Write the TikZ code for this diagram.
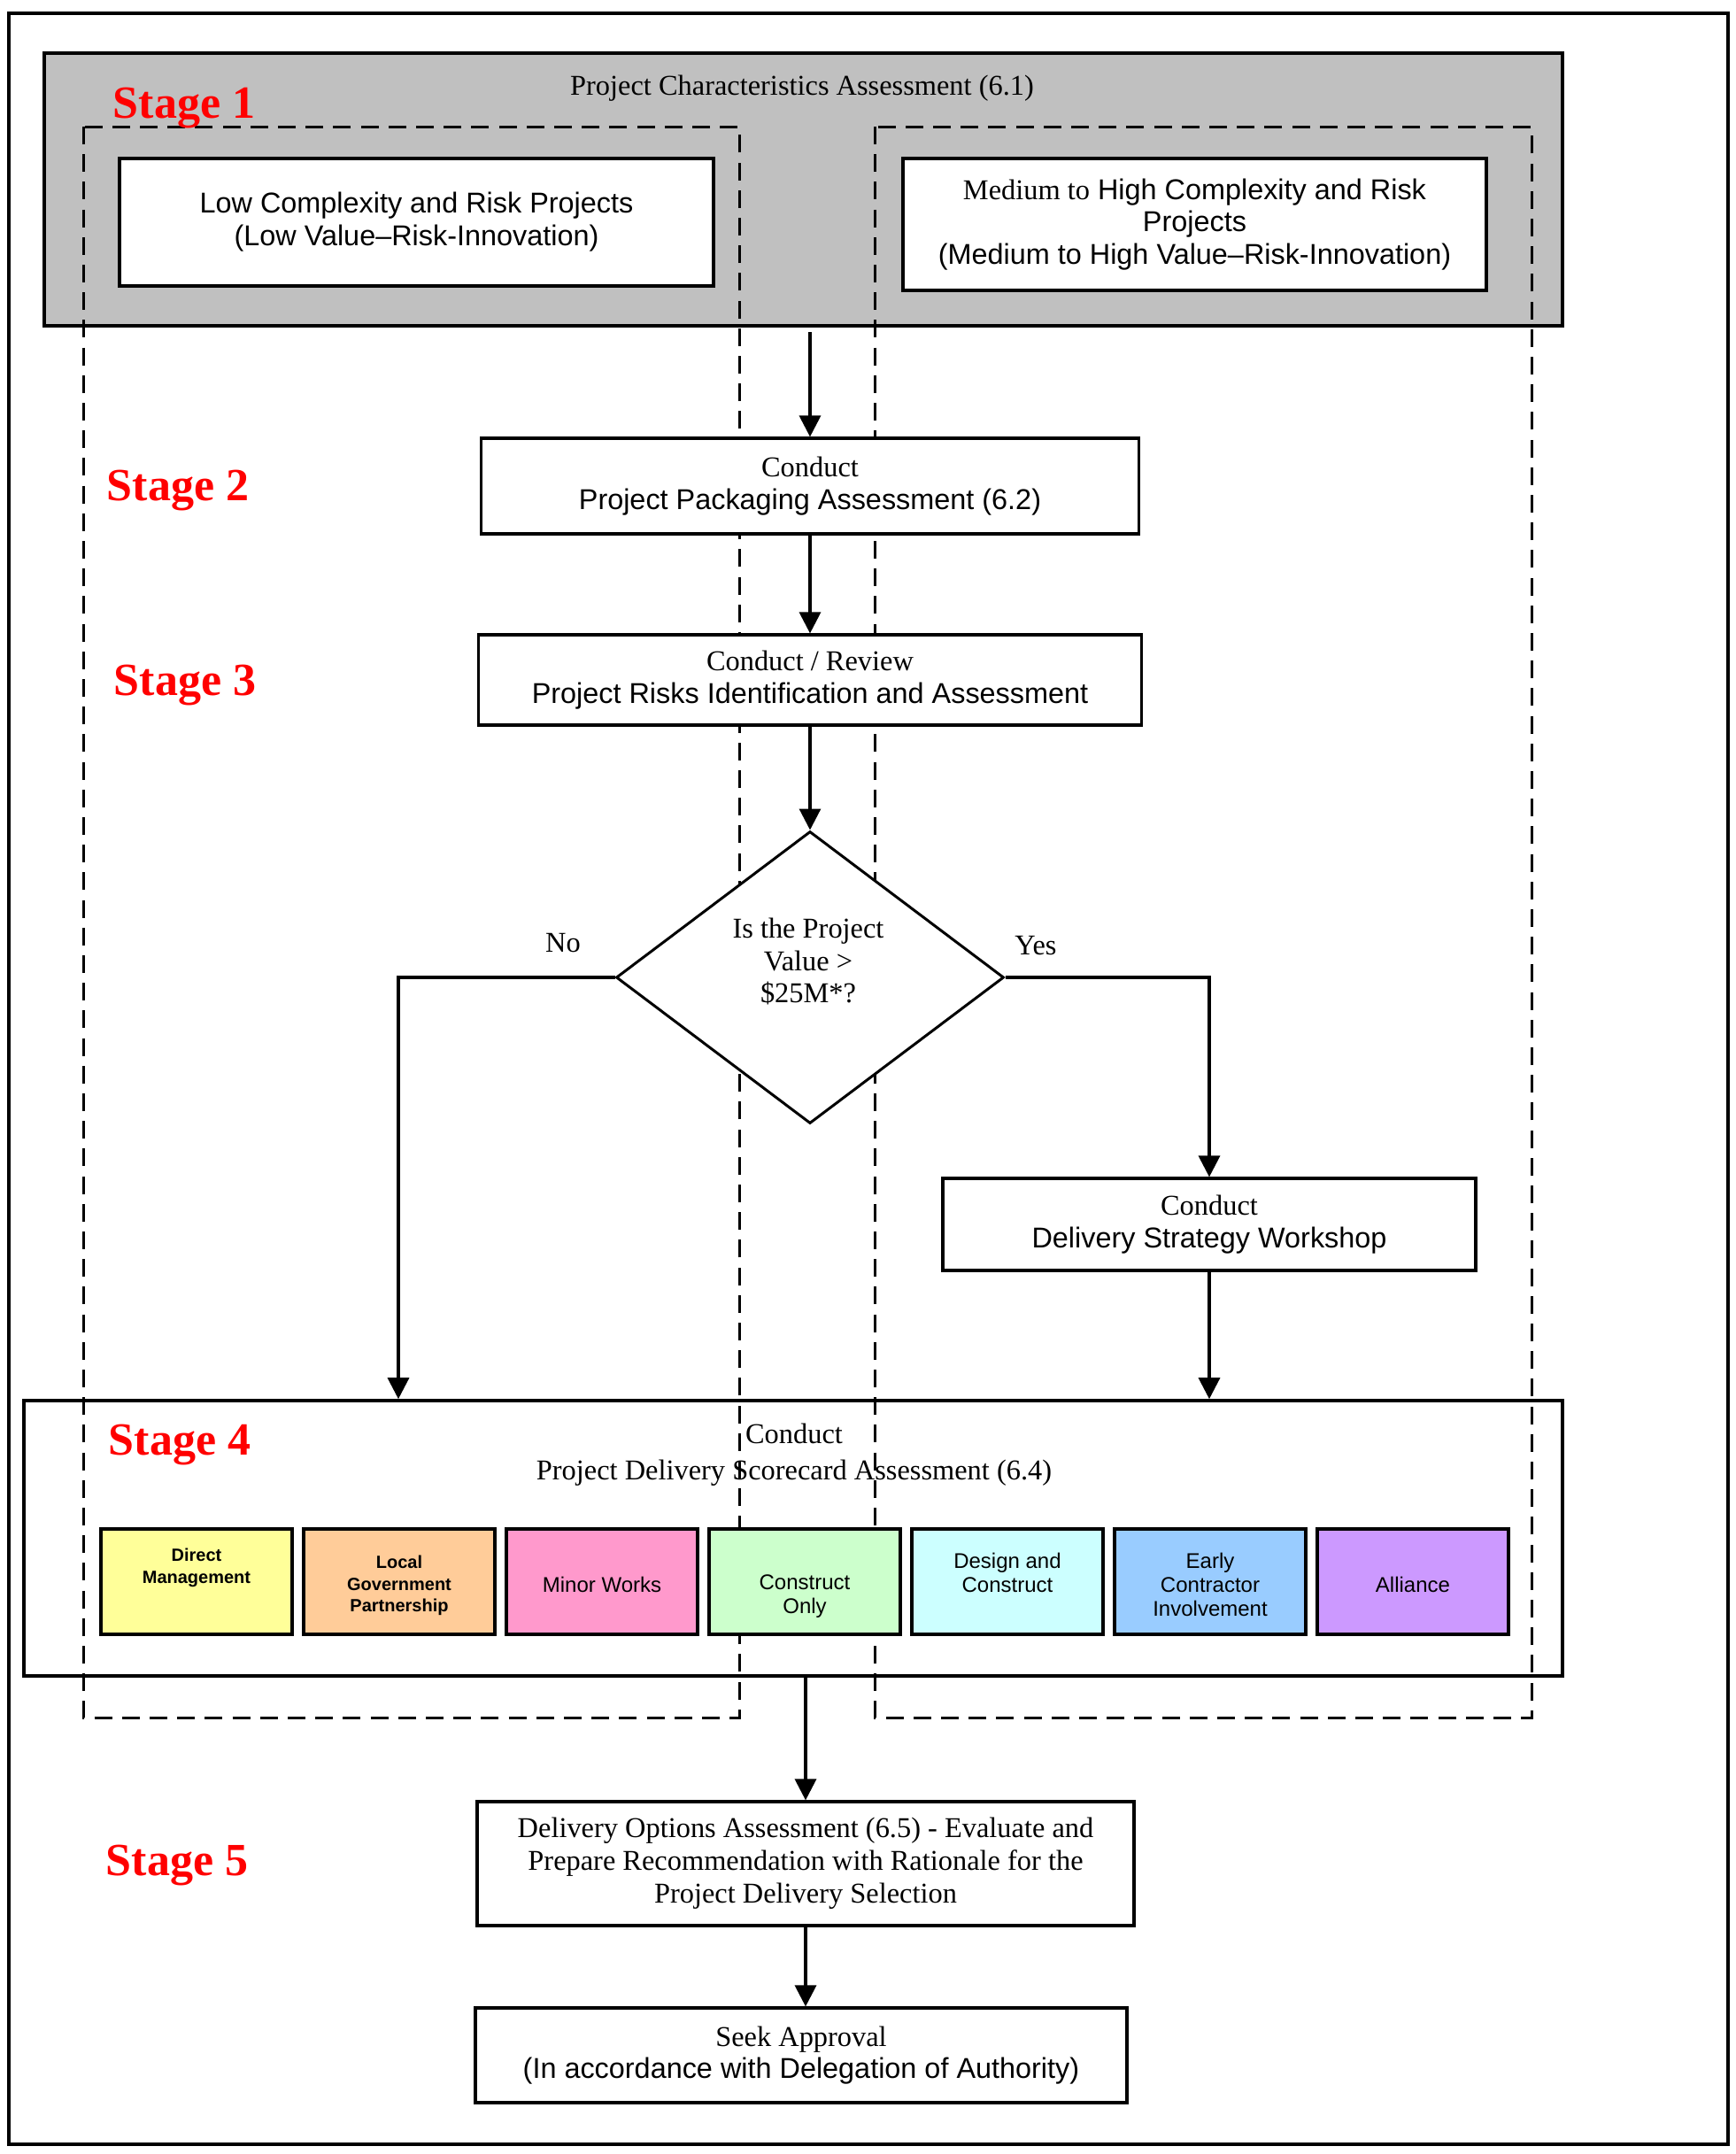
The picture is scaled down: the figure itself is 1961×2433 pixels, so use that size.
\documentclass[tikz,border=0pt]{standalone}
\usepackage{fontspec}
\setmainfont{Liberation Serif}
\setsansfont{Liberation Sans}
\usetikzlibrary{shapes.geometric,arrows.meta}

\definecolor{panelgray}{HTML}{C0C0C0}
\definecolor{stagered}{HTML}{FF0000}
\definecolor{dmyellow}{HTML}{FFFF99}
\definecolor{lgorange}{HTML}{FFCC99}
\definecolor{mwpink}{HTML}{FF99CC}
\definecolor{cogreen}{HTML}{CCFFCC}
\definecolor{dccyan}{HTML}{CCFFFF}
\definecolor{ecblue}{HTML}{99CCFF}
\definecolor{alpurple}{HTML}{CC99FF}

\newcommand{\boxsans}{\fontsize{8.1}{9.2}\selectfont\sffamily}
\newcommand{\boxserif}{\fontsize{8.1}{9.2}\selectfont\rmfamily}
\newcommand{\optbold}{\fontsize{5}{6.1}\selectfont\sffamily\bfseries}
\newcommand{\optplain}{\fontsize{6}{6.8}\selectfont\sffamily}

\begin{document}
\begin{tikzpicture}[x=0.25pt,y=-0.25pt,
  >={Triangle[length=6pt,width=6pt]},
  box/.style={draw,line width=0.8pt,fill=white,inner sep=0pt,align=center,font=\boxsans},
  serif/.style={font=\boxserif,inner sep=0pt,align=center},
  stagelbl/.style={anchor=base west,inner sep=0pt,text=stagered,font=\fontsize{13}{15}\selectfont\rmfamily\bfseries},
  groupline/.style={line width=0.75pt,dash pattern=on 5pt off 2.8pt},
  optbox/.style={draw,line width=0.8pt,minimum width=54pt,minimum height=29.75pt,inner sep=0pt},
  decision/.style={diamond,draw,fill=white,line width=0.75pt,minimum width=109.5pt,minimum height=82.5pt,inner sep=0pt},
  flow/.style={line width=0.8pt}]
\useasboundingbox (0,0) rectangle (1961,2433);
\draw[line width=1pt] (10,15) rectangle (1952,2422);

% Stage 1 panel and Stage 4 frame
\node[draw,line width=1pt,fill=panelgray,minimum width=428.75pt,minimum height=77pt] (CharPanel) at (907.5,214) {};
\node[serif] (CharTitle) at (906,100) {Project Characteristics Assessment (6.1)};
\node[draw,line width=0.9pt,minimum width=434.5pt,minimum height=77.75pt] (Scorecard) at (896,1737.5) {};
\node[serif,text depth=0pt] (ScoreTitle) at (897,1640) {Conduct\\[1pt]Project Delivery Scorecard Assessment (6.4)};

% complexity groups
\draw[groupline] (94,143) rectangle (835,1940);
\draw[groupline] (988,143) rectangle (1730,1940);

\node[box,minimum width=167.75pt,minimum height=36pt] (LowRisk) at (470.5,251) {Low Complexity and Risk Projects\\(Low Value–Risk-Innovation)};
\node[box,minimum width=164.75pt,minimum height=37.25pt] (HighRisk) at (1349.5,253.5) {{\rmfamily Medium to} High Complexity and Risk\\Projects\\(Medium to High Value–Risk-Innovation)};

\node[stagelbl] (StageOne) at (127,133) {Stage 1};
\node[stagelbl] (StageTwo) at (120,565) {Stage 2};
\node[stagelbl] (StageThree) at (128,785) {Stage 3};
\node[stagelbl] (StageFour) at (122,1643) {Stage 4};
\node[stagelbl] (StageFive) at (119,2118) {Stage 5};

% main flow
\coordinate (CharOut) at (915,375);
\node[box,minimum width=185.75pt,minimum height=27pt] (Packaging) at (915,549) {{\rmfamily Conduct}\\Project Packaging Assessment (6.2)};
\node[box,minimum width=187.25pt,minimum height=25.5pt] (RiskReview) at (915,768) {{\rmfamily Conduct / Review}\\Project Risks Identification and Assessment};
\node[decision] (ValueCheck) at (915,1104) {};
\node[serif] (ValueText) at (913,1086) {Is the Project\\Value >\\\$25M*?};
\node[serif] (NoLabel) at (636,1065) {No};
\node[serif] (YesLabel) at (1170,1068) {Yes};
\node[box,minimum width=150.5pt,minimum height=26pt] (Workshop) at (1366,1383) {{\rmfamily Conduct}\\Delivery Strategy Workshop};

\foreach \n/\shade/\fnt/\txt/\dy in {
  1/dmyellow/\optbold/{Direct\\Management}/-15.5,
  2/lgorange/\optbold/{Local\\Government\\Partnership}/4.5,
  3/mwpink/\optplain/{Minor Works}/3.5,
  4/cogreen/\optplain/{Construct\\Only}/16.5,
  5/dccyan/\optplain/{Design and\\Construct}/-10.5,
  6/ecblue/\optplain/{Early\\Contractor\\Involvement}/3.5,
  7/alpurple/\optplain/{Alliance}/3.5}
{
  \node[optbox,fill=\shade] (Option\n) at ({222+(\n-1)*229},1786.5) {};
  \node[font=\fnt,align=center,inner sep=0pt] (OptionText\n) at ({222+(\n-1)*229},{1786.5+\dy}) {\txt};
}

\node[box,font=\boxserif,minimum width=185.5pt,minimum height=35pt] (OptionsAssess) at (910,2105) {Delivery Options Assessment (6.5) - Evaluate and\\Prepare Recommendation with Rationale for the\\Project Delivery Selection};
\node[box,minimum width=184pt,minimum height=26.75pt] (Approval) at (905,2321.5) {{\rmfamily Seek Approval}\\(In accordance with Delegation of Authority)};

\draw[flow,->] (CharOut) -- (Packaging);
\draw[flow,->] (Packaging) -- (RiskReview);
\draw[flow,->] (RiskReview) -- (ValueCheck);
\draw[flow,->] (ValueCheck.west) -| ([xshift=-111.5pt]Scorecard.north);
\draw[flow,->] (ValueCheck.east) -| (Workshop.north);
\draw[flow,->] (Workshop.south) -- (Workshop.south |- Scorecard.north);
\draw[flow,->] (Scorecard.south -| OptionsAssess.north) -- (OptionsAssess.north);
\draw[flow,->] (OptionsAssess.south) -- (OptionsAssess.south |- Approval.north);
\end{tikzpicture}
\end{document}
